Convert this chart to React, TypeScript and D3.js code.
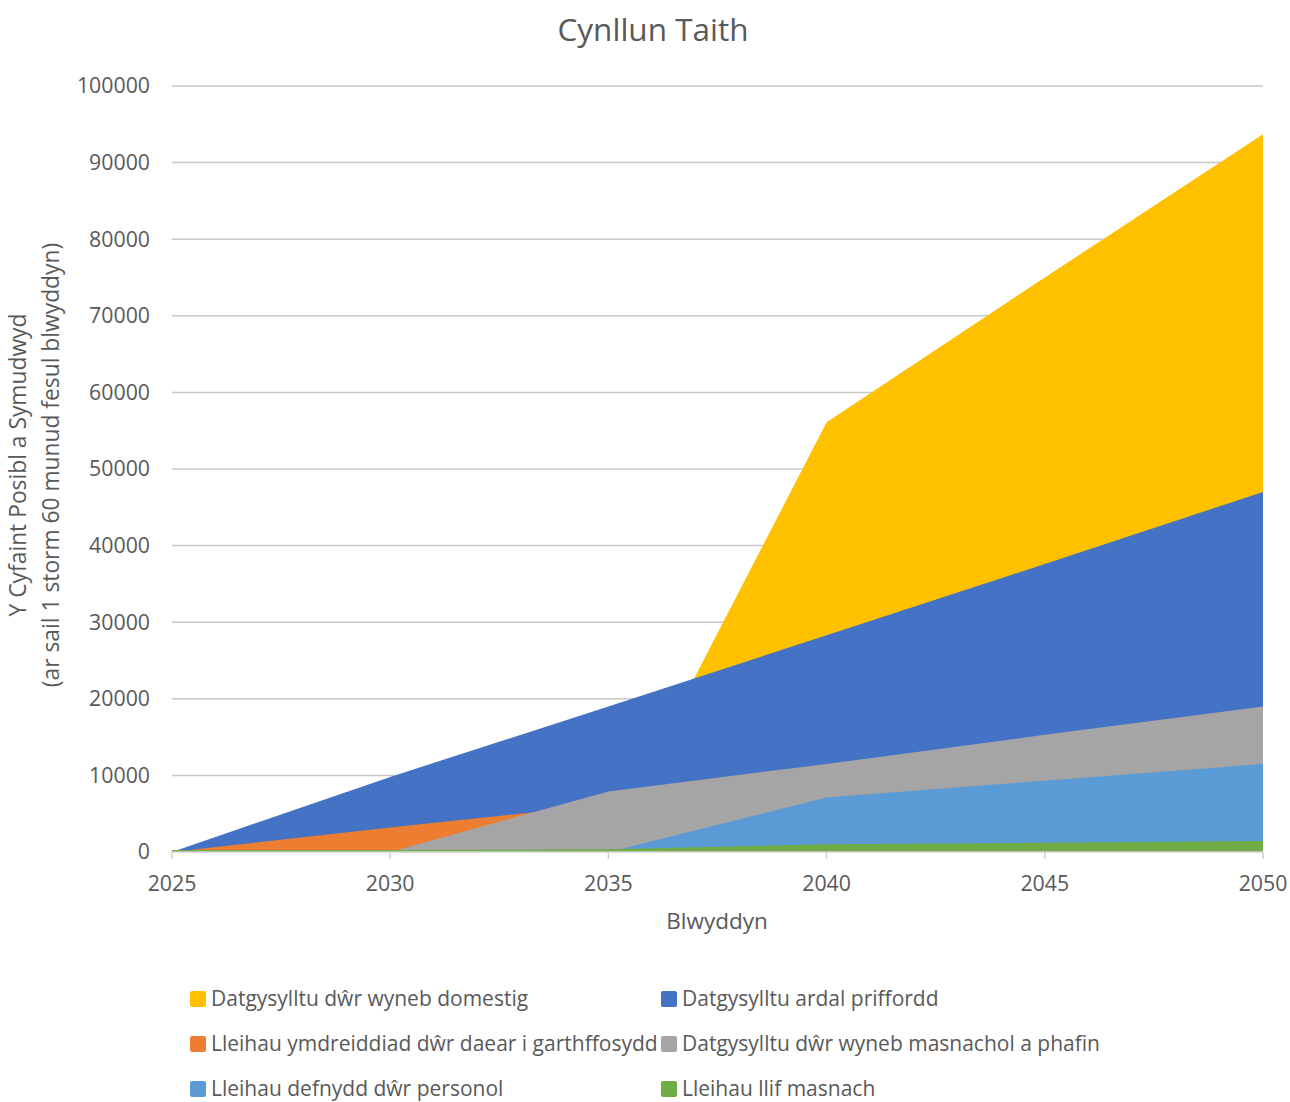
import React from "react";
import * as d3 from "d3";

const years = [2025, 2030, 2035, 2040, 2045, 2050];
const seriesNames = [
  "Datgysylltu dŵr wyneb domestig",
  "Datgysylltu ardal priffordd",
  "Lleihau ymdreiddiad dŵr daear i garthffosydd",
  "Datgysylltu dŵr wyneb masnachol a phafin",
  "Lleihau defnydd dŵr personol",
  "Lleihau llif masnach",
];
const seriesColors = ["#FFC000", "#4472C4", "#ED7D31", "#A5A5A5", "#5B9BD5", "#70AD47"];
const domesticSurface = [0, 0, 1000, 56100, 75000, 93700];
const highwayArea = [0, 9800, 19000, 28300, 37600, 47000];
const groundwaterInfiltration = [0, 3200, 6200, 8500, 10500, 12500];
const commercialSurface = [0, 0, 7900, 11500, 15300, 19000];
const personalUse = [0, 0, 0, 7100, 9300, 11500];
const commercialFlow = [250, 250, 350, 1000, 1200, 1450];
const seriesValues = [
  domesticSurface,
  highwayArea,
  groundwaterInfiltration,
  commercialSurface,
  personalUse,
  commercialFlow,
];
const yTicks = [0, 10000, 20000, 30000, 40000, 50000, 60000, 70000, 80000, 90000, 100000];

const FONT = "'Open Sans', 'Noto Sans', sans-serif";
const TEXT = "#595959";

export default function App() {
  const W = 1290;
  const H = 1102;
  const left = 172, right = 1263, top = 86, bottom = 852;
  const x = d3.scaleLinear().domain([2025, 2050]).range([left, right]);
  const y = d3.scaleLinear().domain([0, 100000]).range([bottom, top]);
  const area = d3
    .area<number>()
    .x((_, i) => x(years[i]))
    .y0(y(0))
    .y1((d) => y(d));

  const legendCols = [190, 661];
  const legendRows = [999, 1044, 1089];

  return (
    <svg
      width={W}
      height={H}
      style={{ position: "absolute", left: 0, top: 0, background: "#fff" }}
      fontFamily={FONT}
    >
      <rect x={0} y={0} width={W} height={H} fill="#fff" />
      <text x={653} y={41} textAnchor="middle" fontSize={31.5} fill={TEXT}>
        Cynllun Taith
      </text>
      {yTicks.map((t) => (
        <g key={t}>
          {t > 0 && (
            <line x1={left} x2={right} y1={y(t)} y2={y(t)} stroke="#C8C8C8" strokeWidth={1.5} />
          )}
          <text x={150} y={y(t)} dy="0.35em" textAnchor="end" fontSize={21.3} fill={TEXT}>
            {t}
          </text>
        </g>
      ))}
      {seriesValues.map((vals, i) => (
        <path key={seriesNames[i]} d={area(vals) || ""} fill={seriesColors[i]} />
      ))}
      <line x1={left} x2={right} y1={bottom} y2={bottom} stroke="#D0D0D0" strokeWidth={1.5} />
      {years.map((yr) => (
        <g key={yr}>
          <line x1={x(yr)} x2={x(yr)} y1={bottom} y2={bottom + 7} stroke="#D0D0D0" strokeWidth={1.5} />
          <text x={x(yr)} y={891} textAnchor="middle" fontSize={21.3} fill={TEXT}>
            {yr}
          </text>
        </g>
      ))}
      <text x={717} y={929} textAnchor="middle" fontSize={22.5} fill={TEXT}>
        Blwyddyn
      </text>
      <g transform="translate(26,465) rotate(-90)">
        <text x={0} y={0} textAnchor="middle" fontSize={22.8} fill={TEXT}>
          Y Cyfaint Posibl a Symudwyd
        </text>
        <text x={0} y={33} textAnchor="middle" fontSize={22.8} fill={TEXT}>
          (ar sail 1 storm 60 munud fesul blwyddyn)
        </text>
      </g>
      {seriesNames.map((name, i) => {
        const cx = legendCols[i % 2];
        const cy = legendRows[Math.floor(i / 2)];
        return (
          <g key={name}>
            <rect x={cx} y={cy - 8} width={16} height={16} rx={2} fill={seriesColors[i]} />
            <text x={cx + 21} y={cy} dy="0.35em" fontSize={21} fill={TEXT}>
              {name}
            </text>
          </g>
        );
      })}
    </svg>
  );
}
